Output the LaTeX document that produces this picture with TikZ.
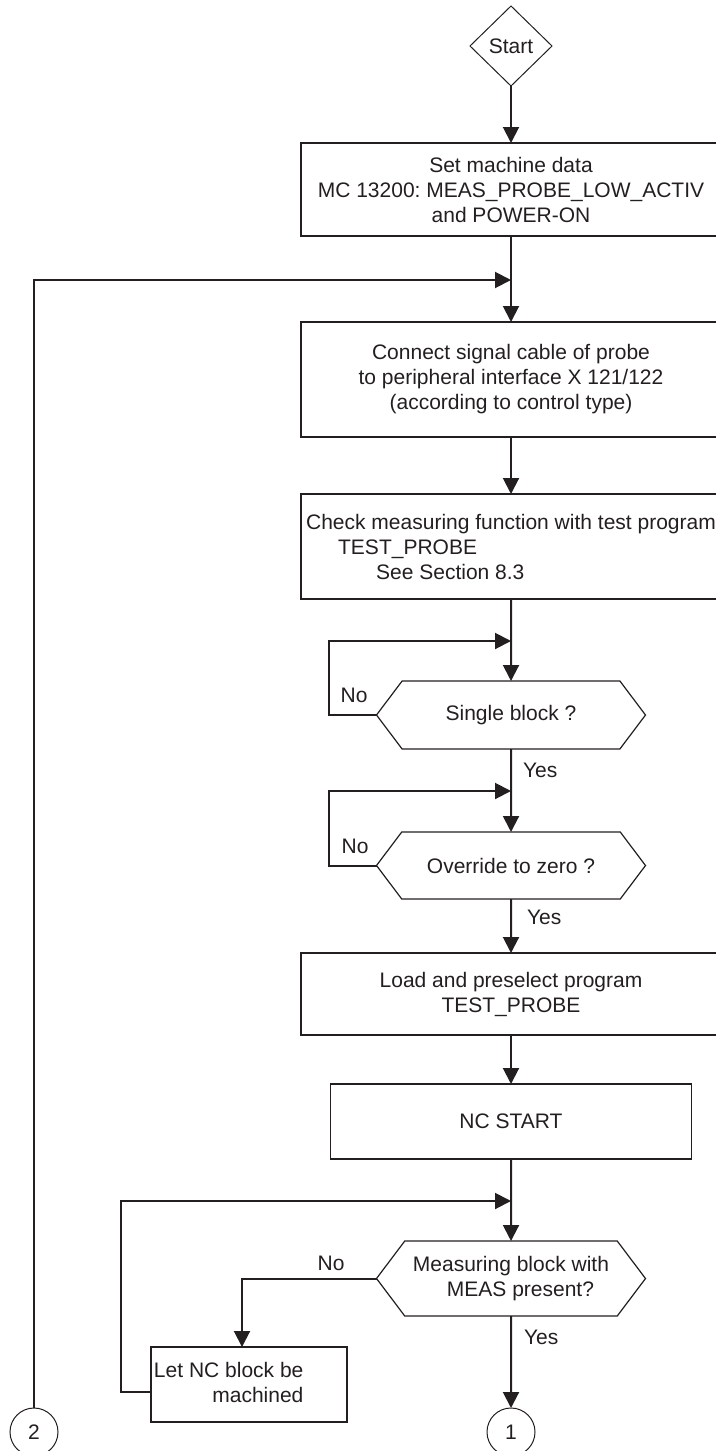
\documentclass[tikz,border=0pt]{standalone}
\usepackage{fontspec}
\setmainfont{Liberation Sans}
\usepackage{xcolor}
\usepackage{tikz}
\usetikzlibrary{positioning, arrows.meta, shapes.geometric, shapes.symbols}
\definecolor{ink}{HTML}{231F20}
\frenchspacing

\begin{document}
\begin{tikzpicture}[
        node distance=28pt, >={Triangle[length=8pt, width=8pt]}, text=ink,
        font=\fontsize{10.5}{12.5}\selectfont,
        box/.style={rectangle, draw=ink, line width=0.8pt, outer sep=0pt, minimum width=210pt, align=center, inner sep=1pt},
        query/.style={signal, signal to=west and east, signal pointer angle=106, draw=ink, line width=0.6pt, outer sep=0pt, minimum width=134.5pt, align=center, inner sep=1pt},
        startnode/.style={diamond, draw=ink, line width=0.5pt, outer sep=0pt, minimum width=41pt, minimum height=40pt, inner sep=0.5pt},
        connector/.style={circle, draw=ink, line width=0.5pt, outer sep=0pt, minimum size=24pt, inner sep=0pt},
        arrow/.style={->, line width=1pt, draw=ink},
        lbl/.style={inner sep=1pt, outer sep=0pt},
    ]
    \useasboundingbox (0,0) rectangle (358pt,-725.5pt);
    \clip (0,0) rectangle (358pt,-725.5pt);
    \node[startnode] (start) at (255.5pt,-23pt) {Start};
    \node[box, below=28.5pt of start, minimum height=46.5pt] (setmd) {Set machine data\\MC 13200: MEAS\_PROBE\_LOW\_ACTIV\\and POWER-ON};
    \coordinate[below=22pt of setmd] (j1);
    \node[box, below=43pt of setmd, minimum height=57.5pt] (cable) {Connect signal cable of probe\\to peripheral interface X 121/122\\(according to control type)};
    \node[box, below=28.5pt of cable, minimum height=52.5pt, align=left] (check) {Check measuring function with test program\\\hspace*{16pt}TEST\_PROBE\\\hspace*{35pt}See Section 8.3};
    \coordinate[below=21pt of check] (j2);
    \node[query, below=41pt of check, minimum height=34pt] (single) {Single block ?};
    \coordinate[below=21pt of single] (j3);
    \node[query, below=41.5pt of single, minimum height=33.5pt] (override) {Override to zero ?};
    \node[box, below=27pt of override, minimum height=41pt] (load) {Load and preselect program\\TEST\_PROBE};
    \node[box, below=24.5pt of load, minimum height=37.5pt, minimum width=180.5pt] (ncstart) {NC START};
    \coordinate[below=21pt of ncstart] (j4);
    \node[query, below=41pt of ncstart, minimum height=37.5pt, align=left] (measblk) {Measuring block with\\\hspace*{17pt}MEAS present?};
    \node[connector, below=46pt of measblk] (con1) {1};
    \node[connector, left=214.5pt of con1] (con2) {2};
    \node[box, below left=34.25pt and 14.75pt of measblk.west, minimum width=98pt, minimum height=37.5pt, inner sep=0pt] (machnd) {\begin{tabular}{@{}r@{}}Let NC block be\\machined\end{tabular}\hspace{20.3pt}};
    % branch labels
    \node[lbl, above left=5pt and 3.5pt of single.west] (no1) {No};
    \node[lbl, below right=6pt and 5pt of single.south] (yes1) {Yes};
    \node[lbl, above left=5pt and 3pt of override.west] (no2) {No};
    \node[lbl, below right=4.5pt and 7pt of override.south] (yes2) {Yes};
    \node[lbl, above left=3pt and 15pt of measblk.west] (no3) {No};
    \node[lbl, below right=6pt and 5.5pt of measblk.south] (yes3) {Yes};
    % main flow
    \draw[arrow] (start) -- (setmd); \draw[arrow] (setmd) -- (cable); \draw[arrow] (cable) -- (check);
    \draw[arrow] (check) -- (single); \draw[arrow] (single) -- (override); \draw[arrow] (override) -- (load);
    \draw[arrow] (load) -- (ncstart); \draw[arrow] (ncstart) -- (measblk); \draw[arrow] (measblk) -- (con1);
    % loops
    \draw[arrow] (con2) |- (j1);
    \draw[arrow] (single.west) -- ++(-24pt,0) |- (j2);
    \draw[arrow] (override.west) -- ++(-24pt,0) |- (j3);
    \draw[arrow] (measblk.west) -| ([xshift=-3.5pt]machnd.north);
    \draw[arrow] ([yshift=-3.75pt]machnd.west) -- ++(-15pt,0) |- (j4);
\end{tikzpicture}
\end{document}
